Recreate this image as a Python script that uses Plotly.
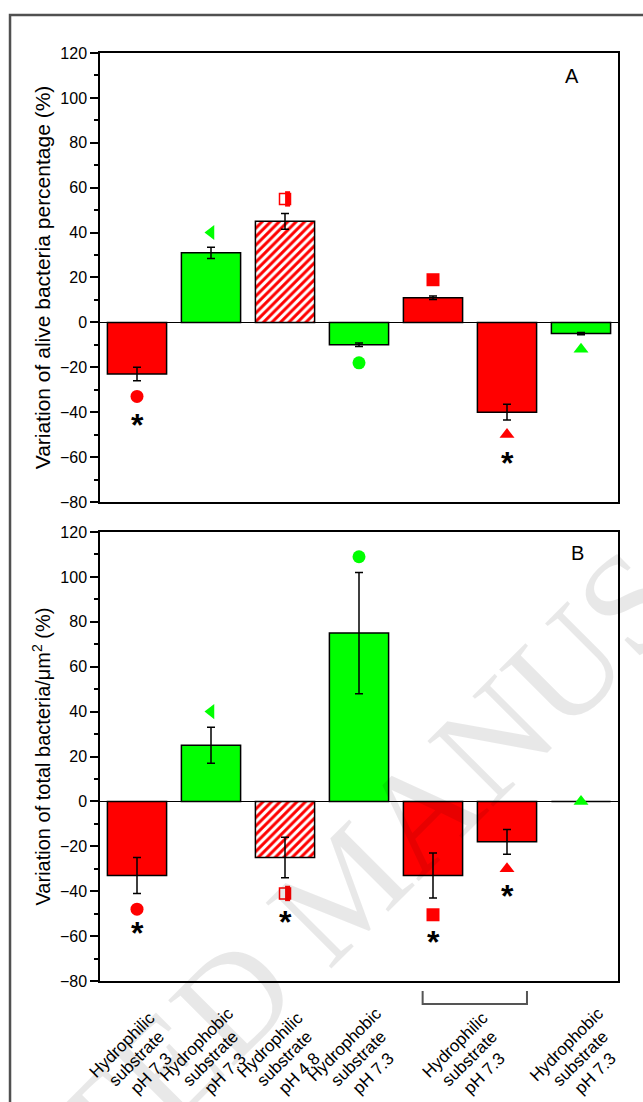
import math
import plotly.graph_objects as go
from plotly.subplots import make_subplots

# ---------------- data ----------------
positions = [1, 2, 3, 4, 5, 6, 7]

alive_values = [-23, 31, 45, -10, 11, -40, -5]
alive_errors = [3, 2.5, 3.5, 0.8, 0.8, 3.5, 0.5]
alive_symbol_y = [-33, 40, 55, -18, 19, -50, -12]
alive_star_x = [1, 6]
alive_star_y = [-44, -61]

total_values = [-33, 25, -25, 75, -33, -18, 0]
total_errors = [8, 8, 9, 27, 10, 5.5, 0]
total_symbol_y = [-48, 40, -41, 109, -50.5, -30, 0]
total_star_x = [1, 3, 5, 6]
total_star_y = [-57, -52, -61, -40.5]

tick_positions = [1, 2, 3, 4, 5.5, 7]
tick_labels = [
    ["Hydrophilic", "substrate", "pH 7.3"],
    ["Hydrophobic", "substrate", "pH 7.3"],
    ["Hydrophilic", "substrate", "pH 4.8"],
    ["Hydrophobic", "substrate", "pH 7.3"],
    ["Hydrophilic", "substrate", "pH 7.3"],
    ["Hydrophobic", "substrate", "pH 7.3"],
]

RED = "#FF0000"
GREEN = "#00FF00"
bar_colors = [RED, GREEN, RED, GREEN, RED, RED, GREEN]
hatched = [False, False, True, False, False, False, False]
symbol_colors = [RED, GREEN, RED, GREEN, RED, RED, GREEN]
symbols = ["circle", "triangle-left", "half", "circle", "square", "triangle-up", "triangle-up"]

FONT = "Liberation Sans, Arial, sans-serif"

fig = make_subplots(rows=2, cols=1)


def pick(seq, mask, keep=True):
    return [v for v, m in zip(seq, mask) if m == keep]


def add_panel(row, values, errors, sym_y, star_x, star_y):
    # solid bars
    fig.add_trace(go.Bar(
        x=pick(positions, hatched, False), y=pick(values, hatched, False), width=0.8,
        marker=dict(color=pick(bar_colors, hatched, False),
                    line=dict(color="black", width=1.5)),
        error_y=dict(type="data", array=pick(errors, hatched, False),
                     color="black", thickness=1.5, width=4),
        showlegend=False), row=row, col=1)
    # hatched bars
    fig.add_trace(go.Bar(
        x=pick(positions, hatched), y=pick(values, hatched), width=0.8,
        marker=dict(color="white", line=dict(color="black", width=1.5),
                    pattern=dict(shape="/", fgcolor=RED, bgcolor="white",
                                 fgopacity=1, size=6, solidity=0.5,
                                 fillmode="replace")),
        error_y=dict(type="data", array=pick(errors, hatched),
                     color="black", thickness=1.5, width=4),
        showlegend=False), row=row, col=1)
    # symbol markers (except half-filled square)
    is_half = [s == "half" for s in symbols]
    fig.add_trace(go.Scatter(x=pick(positions, is_half, False), y=pick(sym_y, is_half, False),
                             mode="markers",
                             marker=dict(symbol=pick(symbols, is_half, False),
                                         color=pick(symbol_colors, is_half, False),
                                         size=13, line=dict(width=0)),
                             showlegend=False), row=row, col=1)
    # half-filled square
    hx = pick(positions, is_half)
    hy = pick(sym_y, is_half)
    fig.add_trace(go.Scatter(x=hx, y=hy, mode="markers",
                             marker=dict(symbol="square", color="white", size=11,
                                         line=dict(color=RED, width=1.5)),
                             showlegend=False), row=row, col=1)
    fig.add_trace(go.Scatter(x=[v + 0.035 for v in hx], y=hy, mode="markers",
                             marker=dict(symbol="line-ns", size=11,
                                         line=dict(color=RED, width=5)),
                             showlegend=False), row=row, col=1)
    xref = "x" if row == 1 else "x2"
    yref = "y" if row == 1 else "y2"
    for sx, sy in zip(star_x, star_y):
        fig.add_annotation(x=sx, y=sy, xref=xref, yref=yref, text="<b>*</b>",
                           showarrow=False, yshift=-4,
                           font=dict(family=FONT, size=32, color="black"))


add_panel(1, alive_values, alive_errors, alive_symbol_y, alive_star_x, alive_star_y)
add_panel(2, total_values, total_errors, total_symbol_y, total_star_x, total_star_y)

yaxis_common = dict(
    range=[-80, 120], dtick=20, ticks="outside", ticklen=8, tickwidth=1.5,
    tickcolor="black", showline=True, linecolor="black", linewidth=1.5,
    mirror=True, showgrid=False, zeroline=True, zerolinecolor="black",
    zerolinewidth=1, tickfont=dict(family=FONT, size=16, color="black"),
    minor=dict(dtick=10, ticks="outside", ticklen=4, tickcolor="black", tickwidth=1.5),
    title_standoff=4,
)
xaxis_common = dict(range=[0.5, 7.5], showline=True, linecolor="black", linewidth=1.5,
                    mirror=True, showgrid=False, zeroline=False, ticks="",
                    showticklabels=False)

fig.update_layout(
    width=643, height=1102,
    margin=dict(l=100, r=25, t=53, b=121),
    plot_bgcolor="white", paper_bgcolor="white",
    barmode="overlay",
    xaxis=dict(**xaxis_common, domain=[0, 1]),
    xaxis2=dict(**xaxis_common, domain=[0, 1]),
    yaxis=dict(**yaxis_common, domain=[0.5162, 1.0],
               title=dict(text="Variation of alive bacteria percentage (%)",
                          font=dict(family=FONT, size=21, color="black"))),
    yaxis2=dict(**yaxis_common, domain=[0.0, 0.4838],
                title=dict(text="Variation of total bacteria/\u03bcm<sup>2</sup> (%)",
                           font=dict(family=FONT, size=20, color="black"))),
)

# rotated category labels (3 tightly spaced lines each)
line_gap = 20
for tp, lines in zip(tick_positions, tick_labels):
    n = len(lines)
    for k, line in enumerate(lines):
        off = (k - (n - 1) / 2) * line_gap
        fig.add_annotation(x=tp, y=-0.084, xref="x2", yref="paper", text=line,
                           textangle=-45, showarrow=False, xanchor="center",
                           yanchor="middle",
                           xshift=off / math.sqrt(2), yshift=-off / math.sqrt(2),
                           font=dict(family=FONT, size=17, color="black"))

# panel letters
fig.add_annotation(x=0.911, y=0.949, xref="x domain", yref="y domain", text="A",
                   xanchor="center", yanchor="middle",
                   showarrow=False, font=dict(family=FONT, size=20, color="black"))
fig.add_annotation(x=0.921, y=0.953, xref="x2 domain", yref="y2 domain", text="B",
                   xanchor="center", yanchor="middle",
                   showarrow=False, font=dict(family=FONT, size=20, color="black"))

# bracket under bars 5 and 6
fig.add_shape(type="path", xref="x2", yref="paper",
              path="M 4.86,-0.0108 L 4.86,-0.0248 L 6.27,-0.0248 L 6.27,-0.0108",
              line=dict(color="#555555", width=2))

# outer frame
fig.add_shape(type="rect", xref="paper", yref="paper",
              x0=-0.1737, y0=-0.3, x1=1.3, y1=1.0409,
              line=dict(color="#505050", width=2.5), fillcolor="rgba(0,0,0,0)",
              layer="above")

# watermark
fig.add_annotation(x=0.475, y=0.1024, xref="paper", yref="paper",
                   text="ACCEPTED MANUSCRIPT", showarrow=False, textangle=-45,
                   xanchor="center", yanchor="middle",
                   font=dict(family="Liberation Serif, Times New Roman, serif",
                             size=142, color="rgba(0,0,0,0.09)"))

fig.write_html("out.html", config={"displayModeBar": False},
               post_script="document.body.style.margin='0';document.body.style.overflow='hidden';")
